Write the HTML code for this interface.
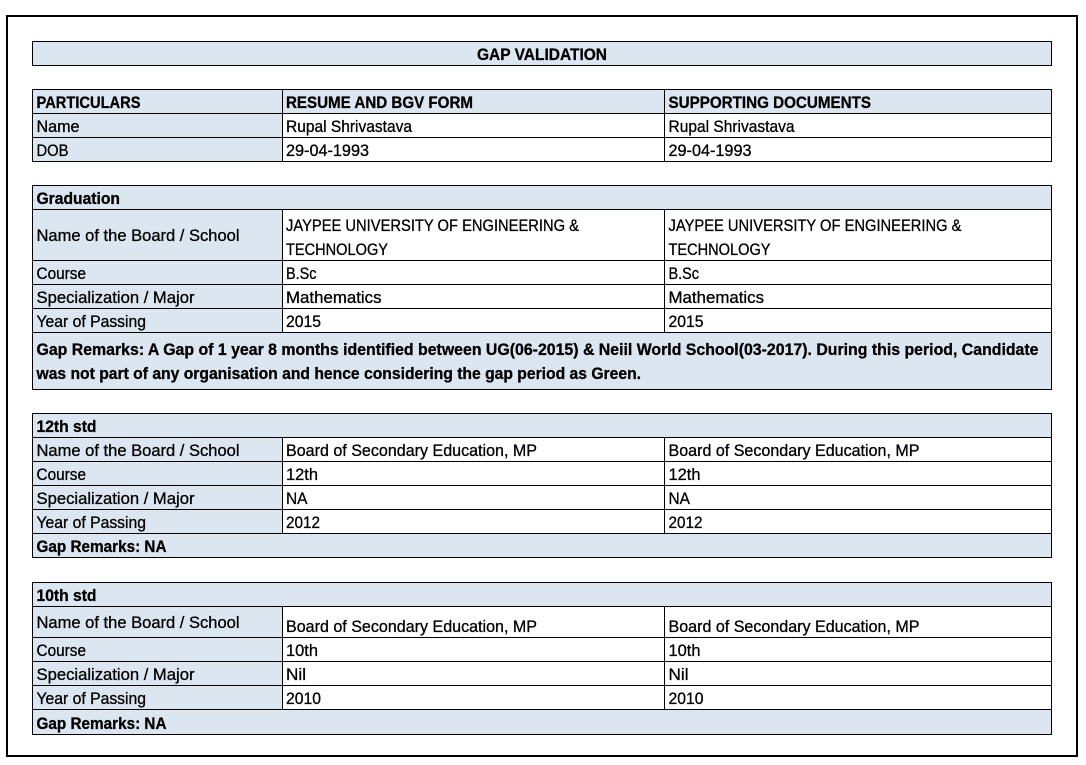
<!DOCTYPE html>
<html><head><meta charset="utf-8"><style>
html,body{margin:0;padding:0;background:#fff;}
svg{display:block;}
text{font-family:"Liberation Sans",Arial,sans-serif;font-size:16.5px;fill:#000;stroke:#000;stroke-width:0.3px;}
.b{font-weight:bold;}
</style></head><body>
<svg width="1086" height="765" viewBox="0 0 1086 765" xmlns="http://www.w3.org/2000/svg" shape-rendering="crispEdges">
<rect x="0" y="0" width="1086" height="765" fill="#fff"/>
<rect x="7" y="16" width="1070" height="740" fill="none" stroke="#000" stroke-width="2"/>

<g fill="#dce6f1">
<rect x="32" y="41" width="1020" height="25"/>
<rect x="32" y="89" width="1020" height="73"/>
<rect x="32" y="185" width="1020" height="205"/>
<rect x="32" y="413" width="1020" height="145"/>
<rect x="32" y="582" width="1020" height="153"/>
</g>
<g fill="#fff">
<rect x="282" y="113" width="770" height="48"/>
<rect x="282" y="209" width="770" height="123"/>
<rect x="282" y="437" width="770" height="96"/>
<rect x="282" y="606" width="770" height="103"/>
</g>

<g fill="#000">
<rect x="32" y="41" width="1020" height="1"/>
<rect x="32" y="65" width="1020" height="1"/>
<rect x="32" y="41" width="1" height="25"/>
<rect x="1051" y="41" width="1" height="25"/>
<rect x="32" y="89" width="1020" height="1"/>
<rect x="32" y="113" width="1020" height="1"/>
<rect x="32" y="137" width="1020" height="1"/>
<rect x="32" y="161" width="1020" height="1"/>
<rect x="32" y="89" width="1" height="73"/>
<rect x="282" y="89" width="1" height="73"/>
<rect x="664" y="89" width="1" height="73"/>
<rect x="1051" y="89" width="1" height="73"/>
<rect x="32" y="185" width="1020" height="1"/>
<rect x="32" y="209" width="1020" height="1"/>
<rect x="32" y="260" width="1020" height="1"/>
<rect x="32" y="284" width="1020" height="1"/>
<rect x="32" y="308" width="1020" height="1"/>
<rect x="32" y="332" width="1020" height="1"/>
<rect x="32" y="389" width="1020" height="1"/>
<rect x="32" y="185" width="1" height="205"/>
<rect x="1051" y="185" width="1" height="205"/>
<rect x="282" y="209" width="1" height="124"/>
<rect x="664" y="209" width="1" height="124"/>
<rect x="32" y="413" width="1020" height="1"/>
<rect x="32" y="437" width="1020" height="1"/>
<rect x="32" y="461" width="1020" height="1"/>
<rect x="32" y="485" width="1020" height="1"/>
<rect x="32" y="509" width="1020" height="1"/>
<rect x="32" y="533" width="1020" height="1"/>
<rect x="32" y="557" width="1020" height="1"/>
<rect x="32" y="413" width="1" height="145"/>
<rect x="1051" y="413" width="1" height="145"/>
<rect x="282" y="437" width="1" height="97"/>
<rect x="664" y="437" width="1" height="97"/>
<rect x="32" y="582" width="1020" height="1"/>
<rect x="32" y="606" width="1020" height="1"/>
<rect x="32" y="637" width="1020" height="1"/>
<rect x="32" y="661" width="1020" height="1"/>
<rect x="32" y="685" width="1020" height="1"/>
<rect x="32" y="709" width="1020" height="1"/>
<rect x="32" y="734" width="1020" height="1"/>
<rect x="32" y="582" width="1" height="153"/>
<rect x="1051" y="582" width="1" height="153"/>
<rect x="282" y="606" width="1" height="104"/>
<rect x="664" y="606" width="1" height="104"/>
</g>

<g shape-rendering="auto">
<text class="b" x="477" y="60" textLength="130" lengthAdjust="spacingAndGlyphs">GAP VALIDATION</text>

<text class="b" x="36.5" y="108" textLength="104" lengthAdjust="spacingAndGlyphs">PARTICULARS</text>
<text class="b" x="286" y="108" textLength="187" lengthAdjust="spacingAndGlyphs">RESUME AND BGV FORM</text>
<text class="b" x="668.5" y="108" textLength="202.5" lengthAdjust="spacingAndGlyphs">SUPPORTING DOCUMENTS</text>
<text x="36.5" y="132" textLength="43" lengthAdjust="spacingAndGlyphs">Name</text>
<text x="286" y="132" textLength="126" lengthAdjust="spacingAndGlyphs">Rupal Shrivastava</text>
<text x="668.5" y="132" textLength="126" lengthAdjust="spacingAndGlyphs">Rupal Shrivastava</text>
<text x="36.5" y="156" textLength="32" lengthAdjust="spacingAndGlyphs">DOB</text>
<text x="286" y="156" textLength="83" lengthAdjust="spacingAndGlyphs">29-04-1993</text>
<text x="668.5" y="156" textLength="83" lengthAdjust="spacingAndGlyphs">29-04-1993</text>

<text class="b" x="36.5" y="204" textLength="83.5" lengthAdjust="spacingAndGlyphs">Graduation</text>
<text x="36.5" y="241" textLength="203" lengthAdjust="spacingAndGlyphs">Name of the Board / School</text>
<text x="286" y="231" textLength="293" lengthAdjust="spacingAndGlyphs">JAYPEE UNIVERSITY OF ENGINEERING &amp;</text>
<text x="286" y="255" textLength="102" lengthAdjust="spacingAndGlyphs">TECHNOLOGY</text>
<text x="668.5" y="231" textLength="293" lengthAdjust="spacingAndGlyphs">JAYPEE UNIVERSITY OF ENGINEERING &amp;</text>
<text x="668.5" y="255" textLength="102" lengthAdjust="spacingAndGlyphs">TECHNOLOGY</text>
<text x="36.5" y="279" textLength="49.5" lengthAdjust="spacingAndGlyphs">Course</text>
<text x="286" y="279" textLength="30.5" lengthAdjust="spacingAndGlyphs">B.Sc</text>
<text x="668.5" y="279" textLength="30.5" lengthAdjust="spacingAndGlyphs">B.Sc</text>
<text x="36.5" y="303" textLength="158" lengthAdjust="spacingAndGlyphs">Specialization / Major</text>
<text x="286" y="303" textLength="95.5" lengthAdjust="spacingAndGlyphs">Mathematics</text>
<text x="668.5" y="303" textLength="95.5" lengthAdjust="spacingAndGlyphs">Mathematics</text>
<text x="36.5" y="327" textLength="109.5" lengthAdjust="spacingAndGlyphs">Year of Passing</text>
<text x="286" y="327" textLength="35" lengthAdjust="spacingAndGlyphs">2015</text>
<text x="668.5" y="327" textLength="35" lengthAdjust="spacingAndGlyphs">2015</text>
<text class="b" x="36.5" y="355" textLength="1002" lengthAdjust="spacingAndGlyphs">Gap Remarks: A Gap of 1 year 8 months identified between UG(06-2015) &amp; Neiil World School(03-2017). During this period, Candidate</text>
<text class="b" x="36.5" y="379" textLength="604.5" lengthAdjust="spacingAndGlyphs">was not part of any organisation and hence considering the gap period as Green.</text>

<text class="b" x="36.5" y="432" textLength="60" lengthAdjust="spacingAndGlyphs">12th std</text>
<text x="36.5" y="456" textLength="203" lengthAdjust="spacingAndGlyphs">Name of the Board / School</text>
<text x="286" y="456" textLength="251" lengthAdjust="spacingAndGlyphs">Board of Secondary Education, MP</text>
<text x="668.5" y="456" textLength="251" lengthAdjust="spacingAndGlyphs">Board of Secondary Education, MP</text>
<text x="36.5" y="480" textLength="49.5" lengthAdjust="spacingAndGlyphs">Course</text>
<text x="286" y="480" textLength="32" lengthAdjust="spacingAndGlyphs">12th</text>
<text x="668.5" y="480" textLength="32" lengthAdjust="spacingAndGlyphs">12th</text>
<text x="36.5" y="504" textLength="158" lengthAdjust="spacingAndGlyphs">Specialization / Major</text>
<text x="286" y="504" textLength="21.5" lengthAdjust="spacingAndGlyphs">NA</text>
<text x="668.5" y="504" textLength="21.5" lengthAdjust="spacingAndGlyphs">NA</text>
<text x="36.5" y="528" textLength="109.5" lengthAdjust="spacingAndGlyphs">Year of Passing</text>
<text x="286" y="528" textLength="34" lengthAdjust="spacingAndGlyphs">2012</text>
<text x="668.5" y="528" textLength="34" lengthAdjust="spacingAndGlyphs">2012</text>
<text class="b" x="36.5" y="552" textLength="130" lengthAdjust="spacingAndGlyphs">Gap Remarks: NA</text>

<text class="b" x="36.5" y="601" textLength="60" lengthAdjust="spacingAndGlyphs">10th std</text>
<text x="36.5" y="628" textLength="203" lengthAdjust="spacingAndGlyphs">Name of the Board / School</text>
<text x="286" y="632" textLength="251" lengthAdjust="spacingAndGlyphs">Board of Secondary Education, MP</text>
<text x="668.5" y="632" textLength="251" lengthAdjust="spacingAndGlyphs">Board of Secondary Education, MP</text>
<text x="36.5" y="656" textLength="49.5" lengthAdjust="spacingAndGlyphs">Course</text>
<text x="286" y="656" textLength="32" lengthAdjust="spacingAndGlyphs">10th</text>
<text x="668.5" y="656" textLength="32" lengthAdjust="spacingAndGlyphs">10th</text>
<text x="36.5" y="680" textLength="158" lengthAdjust="spacingAndGlyphs">Specialization / Major</text>
<text x="286" y="680" textLength="20" lengthAdjust="spacingAndGlyphs">Nil</text>
<text x="668.5" y="680" textLength="20" lengthAdjust="spacingAndGlyphs">Nil</text>
<text x="36.5" y="704" textLength="109.5" lengthAdjust="spacingAndGlyphs">Year of Passing</text>
<text x="286" y="704" textLength="35" lengthAdjust="spacingAndGlyphs">2010</text>
<text x="668.5" y="704" textLength="35" lengthAdjust="spacingAndGlyphs">2010</text>
<text class="b" x="36.5" y="729" textLength="130" lengthAdjust="spacingAndGlyphs">Gap Remarks: NA</text>
</g>
</svg>
</body></html>
